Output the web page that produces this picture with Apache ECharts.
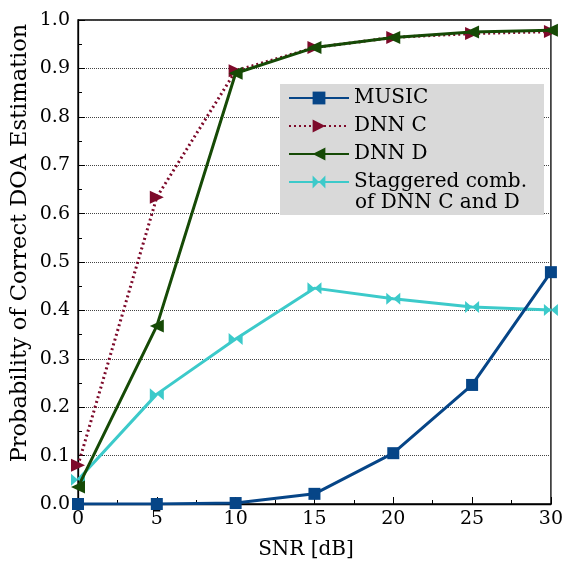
<!DOCTYPE html>
<html>
<head>
<meta charset="utf-8">
<script src="https://cdn.jsdelivr.net/npm/echarts@6/dist/echarts.min.js"></script>
<style>
  html, body { margin: 0; padding: 0; background: #fff; }
  #chart { width: 566px; height: 565px; }
</style>
</head>
<body>
<div id="chart"></div>
<script>
const snr = [0, 5, 10, 15, 20, 25, 30]
const music = [0.0, 0.0, 0.002, 0.021, 0.105, 0.246, 0.479]
const dnnC = [0.08, 0.634, 0.895, 0.943, 0.964, 0.972, 0.976]
const dnnD = [0.035, 0.368, 0.89, 0.943, 0.964, 0.975, 0.979]
const staggered = [0.05, 0.227, 0.341, 0.446, 0.424, 0.407, 0.401]

const font = 'DejaVu Serif'
const bowtie = 'path://M0,0 L10,5 L0,10 Z M20,0 L10,5 L20,10 Z'

function pairs(vals) {
  return snr.map((x, i) => [x, vals[i]])
}

const myChart = echarts.init(document.getElementById('chart'))

myChart.setOption({
  animation: false,
  textStyle: { fontFamily: font, color: '#000' },
  grid: {
    left: 78, right: 12, top: 20, bottom: 61,
    show: true, borderColor: '#000', borderWidth: 1.3
  },
  legend: {
    orient: 'vertical',
    left: 280, top: 84,
    padding: [4, 8, 4, 8],
    itemGap: 8,
    itemWidth: 60,
    itemHeight: 16,
    z: 11,
    textStyle: { fontFamily: font, fontSize: 20, color: '#000' },
    data: ['MUSIC', 'DNN C', 'DNN D', 'Staggered comb.']
  },
  graphic: [
    {
      type: 'rect', left: 280, top: 84, z: 10,
      shape: { width: 264, height: 131 },
      style: { fill: '#d9d9d9' }
    },
    {
      type: 'text', left: 355, top: 193, z: 12,
      style: { text: 'of DNN C and D', fontSize: 20, fontFamily: font, fill: '#000' }
    },
    {
      type: 'text', x: 20, y: 243, rotation: Math.PI / 2,
      style: {
        text: 'Probability of Correct DOA Estimation', fontSize: 22.5, fontFamily: font,
        fill: '#000', align: 'center', verticalAlign: 'middle'
      }
    },
    {
      type: 'text', x: 306, y: 550,
      style: {
        text: 'SNR [dB]', fontSize: 20, fontFamily: font,
        fill: '#000', align: 'center', verticalAlign: 'middle'
      }
    }
  ],
  xAxis: {
    type: 'value', min: 0, max: 30, interval: 5,
    axisLine: { lineStyle: { color: '#000', width: 1.3 } },
    axisTick: { inside: true, length: 7, lineStyle: { color: '#000' } },
    minorTick: { show: true, splitNumber: 2, length: 4, lineStyle: { color: '#000' } },
    axisLabel: { fontSize: 19, color: '#000', margin: 6, fontFamily: font },
    splitLine: { show: false }
  },
  yAxis: {
    type: 'value', min: 0, max: 1, interval: 0.1,
    axisLine: { lineStyle: { color: '#000', width: 1.3 } },
    axisTick: { inside: true, length: 7, lineStyle: { color: '#000' } },
    minorTick: { show: true, splitNumber: 2, length: 4, lineStyle: { color: '#000' } },
    axisLabel: { fontSize: 19, color: '#000', margin: 8, fontFamily: font, formatter: v => v.toFixed(1) },
    splitLine: { show: true, lineStyle: { color: '#444', type: [1, 1], width: 1 } }
  },
  series: [
    {
      name: 'MUSIC', type: 'line', data: pairs(music),
      symbol: 'rect', symbolSize: 12,
      itemStyle: { color: '#064587' },
      lineStyle: { color: '#064587', width: 3 }, z: 5
    },
    {
      name: 'DNN C', type: 'line', data: pairs(dnnC),
      symbol: 'triangle', symbolRotate: -90, symbolSize: [13, 14],
      itemStyle: { color: '#7d0a2a' },
      lineStyle: { color: '#7d0a2a', width: 3, type: [2, 3] }, z: 3
    },
    {
      name: 'DNN D', type: 'line', data: pairs(dnnD),
      symbol: 'triangle', symbolRotate: 90, symbolSize: [13, 14],
      itemStyle: { color: '#164a06' },
      lineStyle: { color: '#164a06', width: 3 }, z: 4
    },
    {
      name: 'Staggered comb.', type: 'line', data: pairs(staggered),
      symbol: bowtie, symbolSize: [14, 12],
      itemStyle: { color: '#3ccaca' },
      lineStyle: { color: '#3ccaca', width: 3 }, z: 2
    }
  ]
})
</script>
</body>
</html>
